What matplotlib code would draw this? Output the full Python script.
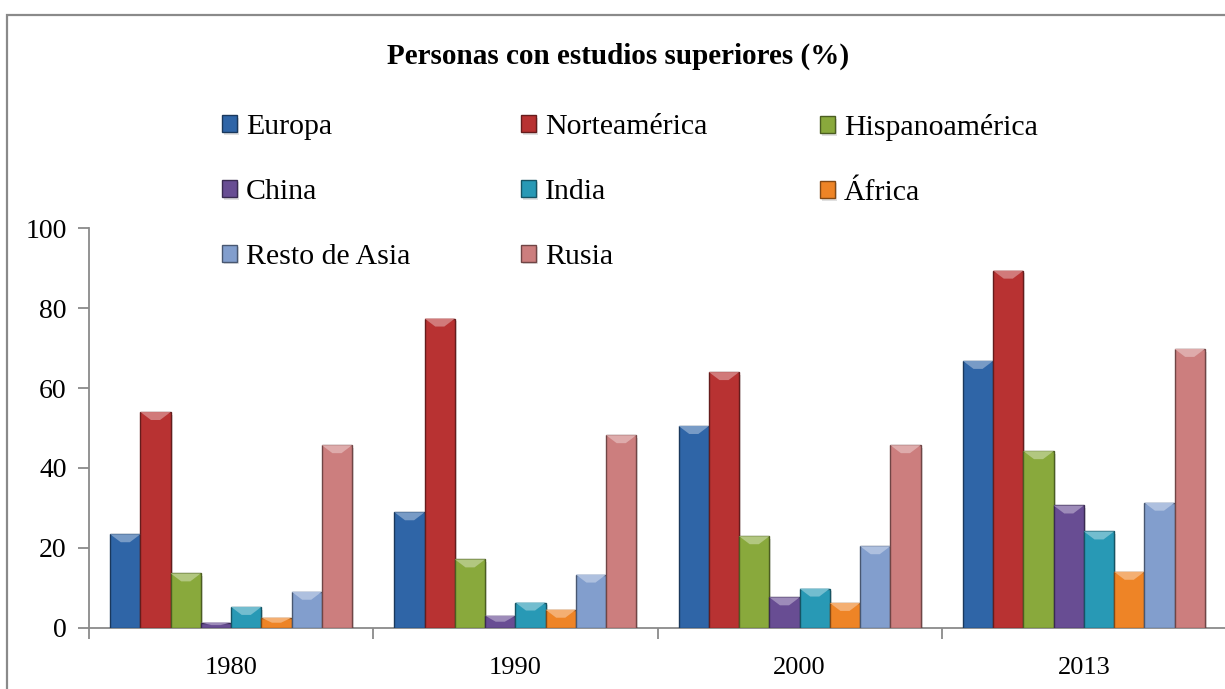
import numpy as np
import matplotlib
matplotlib.use("Agg")
import matplotlib.pyplot as plt
import matplotlib.patches as mpatches
import matplotlib.patheffects as pe
from matplotlib.colors import to_rgb

# data
years = ["1980", "1990", "2000", "2013"]
regions = ["Europa", "Norteamérica", "Hispanoamérica", "China", "India",
           "África", "Resto de Asia", "Rusia"]
europa = [23.4, 28.9, 50.5, 66.8]
norteamerica = [54.0, 77.4, 64.0, 89.4]
hispanoamerica = [13.6, 17.1, 22.9, 44.2]
china = [1.3, 3.0, 7.6, 30.6]
india = [5.2, 6.3, 9.8, 24.1]
africa = [2.5, 4.5, 6.2, 14.0]
resto_asia = [9.0, 13.3, 20.4, 31.3]
rusia = [45.7, 48.2, 45.7, 69.8]
series = [europa, norteamerica, hispanoamerica, china, india, africa,
          resto_asia, rusia]
colors = ["#2F65A7", "#B83232", "#89A93C", "#684D93", "#2899B5",
          "#EE8426", "#829ECD", "#CC7E7E"]

plt.rcParams["font.family"] = ["Liberation Serif", "DejaVu Serif"]

W, H = 1225, 689
fig = plt.figure(figsize=(W / 100, H / 100), dpi=100)

# outer chart frame
frame = mpatches.Rectangle((7 / W, -0.1), 1.2, 1 - 15 / H + 0.1,
                           transform=fig.transFigure, fill=False,
                           edgecolor="#8a8a8a", linewidth=1.6)
fig.add_artist(frame)

ax = fig.add_axes([89 / W, (H - 627.7) / H, (1226 - 89) / W, (627.7 - 228.3) / H])

n = len(series)
bw = 0.851 / n
x = np.arange(len(years))


def darker(c, f):
    r, g, b = to_rgb(c)
    return (r * f, g * f, b * f)


def lighter(c, f):
    r, g, b = to_rgb(c)
    return (r + (1 - r) * f, g + (1 - g) * f, b + (1 - b) * f)


for i, (vals, col, name) in enumerate(zip(series, colors, regions)):
    bars = ax.bar(x - 0.4255 + bw * (i + 0.5), vals, bw, color=col,
                  edgecolor=darker(col, 0.55), linewidth=1.0, label=name,
                  zorder=3)
    for b in bars:
        b.set_path_effects([pe.SimplePatchShadow(offset=(1.5, -2), alpha=0.12,
                                                 shadow_rgbFace="black"),
                            pe.Normal()])
        # light bevel on the top of each bar
        bx, bwid, bh = b.get_x(), b.get_width(), b.get_height()
        bev = min(2.0, bh * 0.5)
        tri = mpatches.Polygon([(bx, bh), (bx + bwid, bh),
                                (bx + bwid * 0.65, bh - bev),
                                (bx + bwid * 0.35, bh - bev)],
                               closed=True, facecolor=lighter(col, 0.35),
                               edgecolor="none", zorder=4)
        ax.add_patch(tri)

ax.set_xlim(-0.5, 3.5)
ax.set_ylim(0, 100)
ax.set_yticks(range(0, 101, 20))
ax.set_xticks(x)
ax.set_xticklabels(years)
ax.set_xticks(np.arange(-0.5, 4.0, 1.0), minor=True)
ax.tick_params(axis="x", which="major", length=0, labelsize=19, pad=21)
ax.tick_params(axis="x", which="minor", length=8, color="#8a8a8a", width=1.3)
ax.tick_params(axis="y", length=8, color="#8a8a8a", width=1.3,
               labelsize=20, pad=8)
for s in ["top", "right"]:
    ax.spines[s].set_visible(False)
for s in ["left", "bottom"]:
    ax.spines[s].set_color("#8a8a8a")
    ax.spines[s].set_linewidth(1.3)

fig.text(618 / W, 1 - 56 / H, "Personas con estudios superiores (%)",
         ha="center", va="center", fontsize=21, fontweight="bold")

# legend laid out row by row, one legend per column
handles, labels = ax.get_legend_handles_labels()
col_x = [222, 521, 820]
for c in range(3):
    idx = list(range(c, n, 3))
    leg = fig.legend([handles[k] for k in idx], [labels[k] for k in idx],
                     loc="upper left",
                     bbox_to_anchor=(col_x[c] / W, 1 - 114 / H),
                     bbox_transform=fig.transFigure, frameon=False,
                     fontsize=21.5, handlelength=0.5, handleheight=0.5,
                     handletextpad=0.3, labelspacing=1.3,
                     borderpad=0, borderaxespad=0)

fig.savefig("out.png", dpi=100)
